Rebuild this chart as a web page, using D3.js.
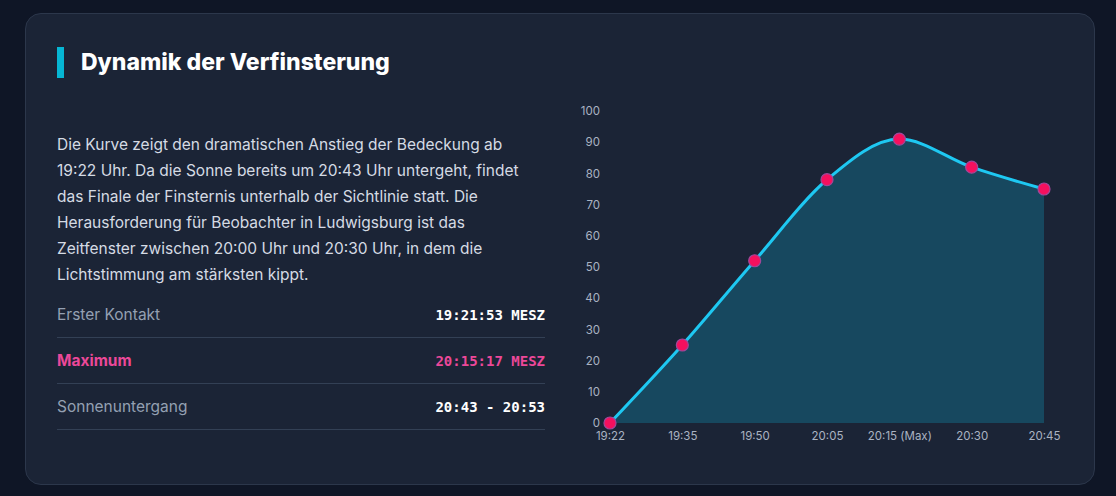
<!DOCTYPE html>
<html><head><meta charset="utf-8">
<script src="https://cdn.jsdelivr.net/npm/d3@7"></script>
<style>
body{margin:0;background:#0f1626;font-family:Inter,"Noto Sans",sans-serif;width:1116px;height:496px;overflow:hidden}
.card{position:absolute;left:25px;top:13px;width:1068px;height:470px;background:#1b2436;border:1px solid #2c374b;border-radius:16px}
.title{position:absolute;left:31px;top:33px;height:31px;border-left:7px solid #06b6d4;padding-left:17px;font-size:23px;font-weight:800;color:#fff;line-height:31px}
.para{position:absolute;left:31px;top:118px;width:478px;font-size:15.5px;line-height:26px;color:#d5dbe4}
.rows{position:absolute;left:31px;top:278px;width:488px}
.row{display:flex;justify-content:space-between;align-items:center;height:45px;border-bottom:1px solid #334055;font-size:15.5px;color:#94a0b2}
.row .v{font-family:"DejaVu Sans Mono",monospace;font-size:14px;font-weight:700;color:#fff}
.row.max{color:#ec4899;font-weight:700}.row.max .v{color:#ec4899}
#chart{position:absolute;left:0;top:0}
</style></head><body>
<div class="card">
<div class="title">Dynamik der Verfinsterung</div>
<div class="para">Die Kurve zeigt den dramatischen Anstieg der Bedeckung ab 19:22 Uhr. Da die Sonne bereits um 20:43 Uhr untergeht, findet das Finale der Finsternis unterhalb der Sichtlinie statt. Die Herausforderung für Beobachter in Ludwigsburg ist das Zeitfenster zwischen 20:00 Uhr und 20:30 Uhr, in dem die Lichtstimmung am stärksten kippt.</div>
<div class="rows" id="rows"></div>
</div>
<svg id="chart" width="1116" height="496"></svg>
<script>
const times = ["19:22", "19:35", "19:50", "20:05", "20:15 (Max)", "20:30", "20:45"];
const coverage = [0, 25, 52, 78, 91, 82, 75];
const yTicks = [0, 10, 20, 30, 40, 50, 60, 70, 80, 90, 100];
const rowLabels = ["Erster Kontakt", "Maximum", "Sonnenuntergang"];
const rowValues = ["19:21:53 MESZ", "20:15:17 MESZ", "20:43 - 20:53"];

d3.select("#rows").selectAll(".row").data(rowLabels).join("div")
  .attr("class", (d, i) => i === 1 ? "row max" : "row")
  .html((d, i) => `<span>${d}</span><span class="v">${rowValues[i]}</span>`);

const svg = d3.select("#chart");
const x = d3.scalePoint().domain(times).range([610, 1044]);
const y = d3.scaleLinear().domain([0, 100]).range([423, 111]);

svg.append("g").attr("transform", "translate(600,0)")
  .call(d3.axisLeft(y).tickValues(yTicks).tickSize(0).tickPadding(0))
  .call(g => g.select(".domain").remove())
  .selectAll("text").attr("fill", "#aab3c2").style("font-size", "11.5px").style("font-family", "Inter, sans-serif");

svg.append("g").attr("transform", "translate(0,428)")
  .call(d3.axisBottom(x).tickSize(0).tickPadding(4))
  .call(g => g.select(".domain").remove())
  .selectAll("text").attr("fill", "#aab3c2").style("font-size", "11.5px").style("font-family", "Inter, sans-serif");

const data = times.map((t, i) => ({ t, v: coverage[i] }));
const curve = d3.curveMonotoneX;

svg.append("path").datum(data)
  .attr("fill", "#17485f")
  .attr("d", d3.area().x(d => x(d.t)).y0(y(0)).y1(d => y(d.v)).curve(curve));

svg.append("path").datum(data)
  .attr("fill", "none").attr("stroke", "#1ec8f2").attr("stroke-width", 3)
  .attr("d", d3.line().x(d => x(d.t)).y(d => y(d.v)).curve(curve));

svg.selectAll("circle").data(data).join("circle")
  .attr("cx", d => x(d.t)).attr("cy", d => y(d.v)).attr("r", 6)
  .attr("fill", "#f5105e").attr("stroke", "#a0489a").attr("stroke-width", 1.2);
</script>
</body></html>
